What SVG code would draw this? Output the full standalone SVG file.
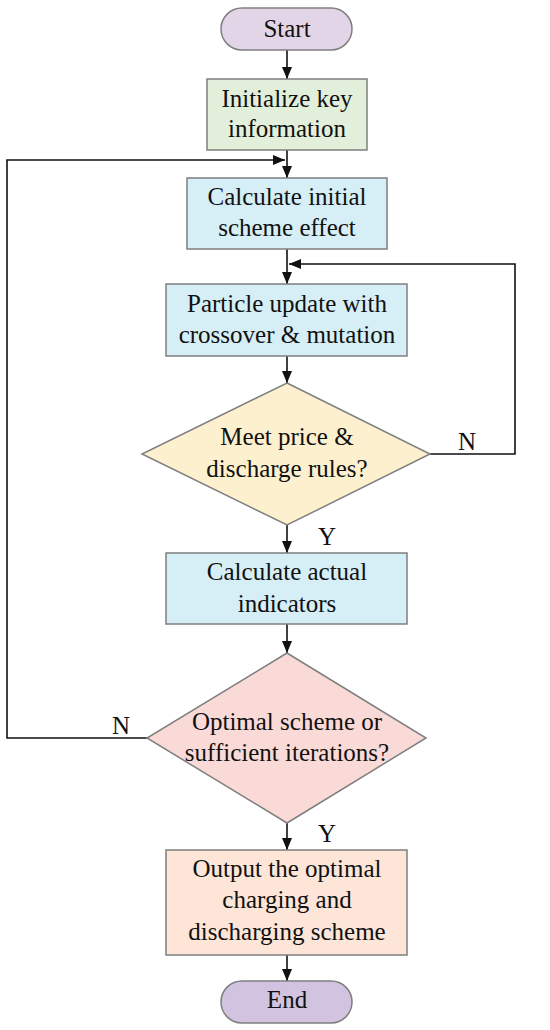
<svg xmlns="http://www.w3.org/2000/svg" width="550" height="1030" viewBox="0 0 550 1030">
<style>
text, .t, g text, svg g[id] text{font-family:'Liberation Serif','Times New Roman',serif !important}
.t{font-size:25px;fill:#111;text-anchor:middle}
.n{stroke:#7f7f7f;stroke-width:1.5}
.c{fill:none;stroke:#111;stroke-width:1.6}
</style>
<defs>
<marker id="a" viewBox="0 0 12 10" refX="12" refY="5" markerWidth="12" markerHeight="10" markerUnits="userSpaceOnUse" orient="auto">
<path d="M0,0 L12,5 L0,10 Z" fill="#111"/>
</marker>
</defs>
<rect width="550" height="1030" fill="#fff"/>
<g id="connectors">
<path class="c" d="M287,50 V79" marker-end="url(#a)"/>
<path class="c" d="M287,150 V178" marker-end="url(#a)"/>
<path class="c" d="M147,738 H7 V160 H285" marker-end="url(#a)"/>
<path class="c" d="M287,249 V284" marker-end="url(#a)"/>
<path class="c" d="M430,454 H515 V264 H289" marker-end="url(#a)"/>
<path class="c" d="M287,356 V383" marker-end="url(#a)"/>
<path class="c" d="M287,525 V553" marker-end="url(#a)"/>
<path class="c" d="M287,624 V653" marker-end="url(#a)"/>
<path class="c" d="M287,823 V850" marker-end="url(#a)"/>
<path class="c" d="M287,955 V981" marker-end="url(#a)"/>
<text class="t" x="467" y="450">N</text>
<text class="t" x="327" y="545">Y</text>
<text class="t" x="121" y="734">N</text>
<text class="t" x="327" y="842">Y</text>
</g>
<g id="start">
<rect class="n" x="221" y="8" width="131" height="42" rx="21" fill="#e1d5e7"/>
<text class="t" font-family="Liberation Serif, serif" x="287" y="37">Start</text>
</g>
<g id="init">
<rect class="n" x="207" y="79" width="160" height="71" fill="#e2efda"/>
<text class="t" font-family="Liberation Serif, serif" x="287" y="107">Initialize key</text>
<text class="t" font-family="Liberation Serif, serif" x="287" y="137">information</text>
</g>
<g id="calc-initial">
<rect class="n" x="187" y="178" width="200" height="71" fill="#d6eef5"/>
<text class="t" font-family="Liberation Serif, serif" x="287" y="205">Calculate initial</text>
<text class="t" font-family="Liberation Serif, serif" x="287" y="236">scheme effect</text>
</g>
<g id="particle">
<rect class="n" x="166" y="284" width="241" height="72" fill="#d6eef5"/>
<text class="t" font-family="Liberation Serif, serif" x="287" y="312">Particle update with</text>
<text class="t" font-family="Liberation Serif, serif" x="287" y="343">crossover &amp; mutation</text>
</g>
<g id="meet">
<polygon class="n" points="287,383 430,454 287,525 142,454" fill="#fdf0cf"/>
<text class="t" font-family="Liberation Serif, serif" x="287" y="445">Meet price &amp;</text>
<text class="t" font-family="Liberation Serif, serif" x="287" y="477">discharge rules?</text>
</g>
<g id="calc-actual">
<rect class="n" x="166" y="553" width="241" height="71" fill="#d6eef5"/>
<text class="t" font-family="Liberation Serif, serif" x="287" y="580">Calculate actual</text>
<text class="t" font-family="Liberation Serif, serif" x="287" y="612">indicators</text>
</g>
<g id="optimal">
<polygon class="n" points="287,653 426,738 287,823 147,738" fill="#fadad6"/>
<text class="t" font-family="Liberation Serif, serif" x="287" y="730">Optimal scheme or</text>
<text class="t" font-family="Liberation Serif, serif" x="287" y="761">sufficient iterations?</text>
</g>
<g id="output">
<rect class="n" x="166" y="850" width="241" height="105" fill="#fde5d8"/>
<text class="t" font-family="Liberation Serif, serif" x="287" y="877">Output the optimal</text>
<text class="t" font-family="Liberation Serif, serif" x="287" y="908">charging and</text>
<text class="t" font-family="Liberation Serif, serif" x="287" y="940">discharging scheme</text>
</g>
<g id="end">
<rect class="n" x="221" y="981" width="131" height="42" rx="21" fill="#d2c4e0"/>
<text class="t" font-family="Liberation Serif, serif" x="287" y="1008">End</text>
</g>
</svg>
